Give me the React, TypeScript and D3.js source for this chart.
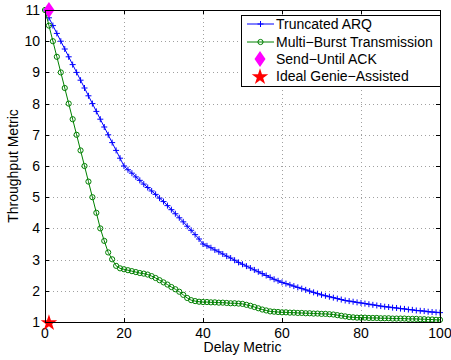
import React, { useEffect, useRef } from 'react';
import * as d3 from 'd3';

// delay axis: 0..100, one point per unit
const delays = d3.range(0, 101);

const truncatedArq = [
  11, 10.75, 10.5, 10.25, 10, 9.75, 9.5, 9.25, 9, 8.75, 8.5,
  8.25, 8, 7.75, 7.5, 7.25, 7, 6.75, 6.5, 6.25, 6.0,
  5.88, 5.77, 5.65, 5.54, 5.42, 5.31, 5.2, 5.09, 4.97, 4.86,
  4.73, 4.6, 4.47, 4.34, 4.21, 4.07, 3.94, 3.8, 3.66, 3.5,
  3.44, 3.38, 3.31, 3.25, 3.18, 3.11, 3.05, 2.98, 2.91, 2.85,
  2.79, 2.73, 2.67, 2.61, 2.55, 2.49, 2.43, 2.37, 2.32, 2.27,
  2.23, 2.19, 2.15, 2.11, 2.07, 2.03, 1.99, 1.95, 1.91, 1.87,
  1.84, 1.81, 1.78, 1.75, 1.72, 1.69, 1.67, 1.65, 1.63, 1.61,
  1.59, 1.57, 1.55, 1.53, 1.51, 1.49, 1.48, 1.46, 1.45, 1.43,
  1.42, 1.4, 1.39, 1.37, 1.36, 1.35, 1.33, 1.32, 1.31, 1.3,
];

const multiBurst = [
  11, 10.5, 10, 9.5, 9, 8.5, 8, 7.5, 7, 6.5, 6,
  5.5, 5, 4.5, 4, 3.6, 3.23, 3.01, 2.8, 2.72, 2.69,
  2.66, 2.63, 2.6, 2.57, 2.55, 2.52, 2.47, 2.41, 2.34, 2.27,
  2.2, 2.12, 2.05, 1.97, 1.87, 1.77, 1.7, 1.67, 1.65, 1.64,
  1.64, 1.63, 1.63, 1.62, 1.62, 1.61, 1.6, 1.6, 1.59, 1.58,
  1.55, 1.52, 1.48, 1.44, 1.4, 1.37, 1.34, 1.33, 1.32, 1.31,
  1.31, 1.3, 1.3, 1.29, 1.29, 1.28, 1.28, 1.27, 1.27, 1.26,
  1.26, 1.25, 1.24, 1.22, 1.2, 1.18, 1.16, 1.15, 1.14, 1.14,
  1.14, 1.13, 1.13, 1.13, 1.12, 1.12, 1.12, 1.11, 1.11, 1.11,
  1.11, 1.1, 1.1, 1.1, 1.09, 1.09, 1.08, 1.08, 1.07, 1.07,
];

const sendUntilAck = [{ x: 1, y: 11 }];
const idealGenie = [{ x: 1, y: 1 }];

const xTicks = [0, 20, 40, 60, 80, 100];
const yTicks = [1, 2, 3, 4, 5, 6, 7, 8, 9, 10, 11];
const legendLabels = ['Truncated ARQ', 'Multi\u2212Burst Transmission', 'Send\u2212Until ACK', 'Ideal Genie\u2212Assisted'];

const BLUE = '#0000ff';
const GREEN = '#008000';
const MAGENTA = '#ff00ff';
const RED = '#ff0000';
const FONT = 'Liberation Sans, Arial, Helvetica, sans-serif';
const FS = 14;

const App = () => {
  const ref = useRef<SVGSVGElement | null>(null);

  useEffect(() => {
    const svg = d3.select(ref.current);
    svg.selectAll('*').remove();

    const left = 45, right = 440, top = 10, bottom = 322;
    const x = d3.scaleLinear().domain([0, 100]).range([left, right]);
    const y = d3.scaleLinear().domain([1, 11]).range([bottom, top]);

    svg.append('rect').attr('x', 0).attr('y', 0).attr('width', 451).attr('height', 360).attr('fill', '#fff');

    // grid
    const grid = svg.append('g').attr('stroke', '#a0a0a0').attr('stroke-width', 1).attr('stroke-dasharray', '1,3');
    xTicks.slice(1, -1).forEach(t => {
      grid.append('line').attr('x1', Math.round(x(t)) + 0.5).attr('x2', Math.round(x(t)) + 0.5).attr('y1', top).attr('y2', bottom);
    });
    yTicks.slice(1, -1).forEach(t => {
      grid.append('line').attr('y1', Math.round(y(t)) + 0.5).attr('y2', Math.round(y(t)) + 0.5).attr('x1', left).attr('x2', right);
    });

    // axes (ticks inward, all sides)
    const axes = svg.append('g').attr('stroke', '#000').attr('stroke-width', 1);
    xTicks.forEach(t => {
      const px = Math.round(x(t)) + 0.5;
      axes.append('line').attr('x1', px).attr('x2', px).attr('y1', bottom).attr('y2', bottom - 4);
      axes.append('line').attr('x1', px).attr('x2', px).attr('y1', top).attr('y2', top + 4);
    });
    yTicks.forEach(t => {
      const py = Math.round(y(t)) + 0.5;
      axes.append('line').attr('x1', left).attr('x2', left + 4).attr('y1', py).attr('y2', py);
      axes.append('line').attr('x1', right).attr('x2', right - 4).attr('y1', py).attr('y2', py);
    });

    svg.append('g')
      .attr('font-family', FONT).attr('font-size', FS).attr('text-anchor', 'middle')
      .selectAll('text').data(xTicks).enter().append('text')
      .attr('x', d => x(d)).attr('y', 338).text(d => d);

    svg.append('g')
      .attr('font-family', FONT).attr('font-size', FS).attr('text-anchor', 'end')
      .selectAll('text').data(yTicks).enter().append('text')
      .attr('x', 40).attr('y', d => y(d) + 5).text(d => d);

    svg.append('text').attr('x', (left + right) / 2).attr('y', 352)
      .attr('font-family', FONT).attr('font-size', FS).attr('text-anchor', 'middle').text('Delay Metric');
    svg.append('text')
      .attr('transform', `translate(18,${(top + bottom) / 2}) rotate(-90)`)
      .attr('font-family', FONT).attr('font-size', FS).attr('text-anchor', 'middle').text('Throughput Metric');

    // series
    const line = d3.line<number>().x((d, i) => x(delays[i])).y(d => y(d));

    const plus = (g: any, cx: number, cy: number) => {
      g.append('path').attr('d', `M${cx - 3},${cy}H${cx + 3}M${cx},${cy - 3}V${cy + 3}`)
        .attr('stroke', BLUE).attr('stroke-width', 1).attr('fill', 'none');
    };

    const gBlue = svg.append('g');
    gBlue.append('path').datum(truncatedArq).attr('d', line).attr('fill', 'none').attr('stroke', BLUE).attr('stroke-width', 1);
    truncatedArq.forEach((v, i) => plus(gBlue, x(delays[i]), y(v)));

    const gGreen = svg.append('g');
    gGreen.append('path').datum(multiBurst).attr('d', line).attr('fill', 'none').attr('stroke', GREEN).attr('stroke-width', 1);
    gGreen.selectAll('circle').data(multiBurst).enter().append('circle')
      .attr('cx', (d, i) => x(delays[i])).attr('cy', d => y(d)).attr('r', 2.6)
      .attr('fill', 'none').attr('stroke', GREEN).attr('stroke-width', 1);

    const diamond = (cx: number, cy: number) => `M${cx},${cy - 8}L${cx + 5.5},${cy}L${cx},${cy + 8}L${cx - 5.5},${cy}Z`;
    const star = d3.symbol().type(d3.symbolStar).size(85);

    sendUntilAck.forEach(p => {
      svg.append('path').attr('d', diamond(x(p.x), y(p.y))).attr('fill', MAGENTA);
    });
    idealGenie.forEach(p => {
      svg.append('path').attr('d', star()).attr('transform', `translate(${x(p.x)},${y(p.y) + 1})`).attr('fill', RED);
    });

    // box
    svg.append('rect').attr('x', left + 0.5).attr('y', top + 0.5).attr('width', right - left).attr('height', bottom - top)
      .attr('fill', 'none').attr('stroke', '#000').attr('stroke-width', 1);

    // legend
    const lg = svg.append('g');
    lg.append('rect').attr('x', 241.5).attr('y', 15.5).attr('width', 199).attr('height', 71)
      .attr('fill', '#fff').attr('stroke', '#000').attr('stroke-width', 1);
    const rowY = [24, 42, 59, 76];
    legendLabels.forEach((label, i) => {
      lg.append('text').attr('x', 276).attr('y', rowY[i] + 5)
        .attr('font-family', FONT).attr('font-size', FS).text(label);
    });
    lg.append('line').attr('x1', 247).attr('x2', 274).attr('y1', rowY[0]).attr('y2', rowY[0]).attr('stroke', BLUE);
    plus(lg, 260.5, rowY[0]);
    lg.append('line').attr('x1', 247).attr('x2', 274).attr('y1', rowY[1]).attr('y2', rowY[1]).attr('stroke', GREEN);
    lg.append('circle').attr('cx', 260.5).attr('cy', rowY[1]).attr('r', 2.6).attr('fill', 'none').attr('stroke', GREEN);
    lg.append('path').attr('d', diamond(260, rowY[2])).attr('fill', MAGENTA);
    lg.append('path').attr('d', star()).attr('transform', `translate(260,${rowY[3] + 1})`).attr('fill', RED);
  }, []);

  return (
    <svg ref={ref} width={451} height={360} style={{ position: 'absolute', left: 0, top: 0 }} />
  );
};

export default App;
